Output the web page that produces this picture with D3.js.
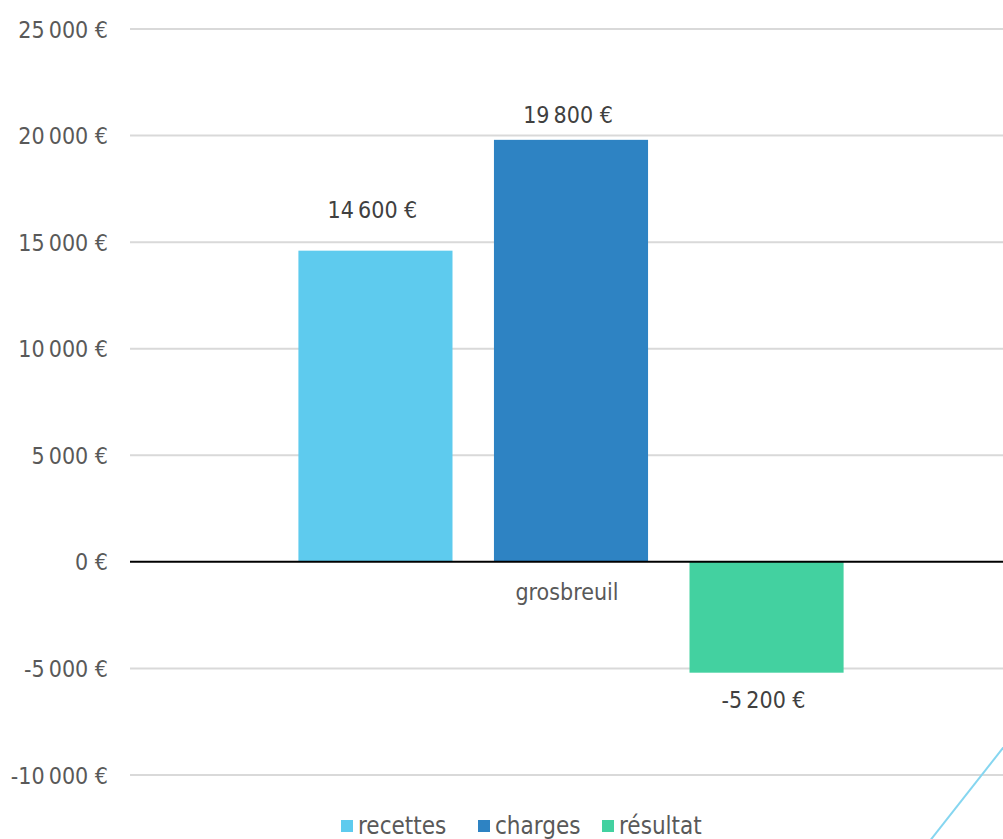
<!DOCTYPE html>
<html>
<head>
<meta charset="utf-8">
<script src="https://cdn.jsdelivr.net/npm/d3@7"></script>
<style>
  html, body { margin: 0; padding: 0; background: #fff; }
  svg { display: block; }
  text { font-family: "DejaVu Sans Condensed", "DejaVu Sans", sans-serif; font-stretch: condensed; }
</style>
</head>
<body>
<svg id="chart" width="1003" height="839"></svg>
<script>
// ---- data ----
const categories = ["grosbreuil"];
const seriesNames = ["recettes", "charges", "résultat"];
const recettes = [14600];
const charges = [19800];
const resultat = [-5200];
const yTicks = [-10000, -5000, 0, 5000, 10000, 15000, 20000, 25000];

// ---- styles ----
const colors = ["#5ecbee", "#2e83c3", "#43d1a0"];
const labelDy = [-33, -17, 35];

const seriesValues = [recettes, charges, resultat];
const W = 1003, H = 839;
const svg = d3.select("#chart");

const loc = d3.formatLocale({ decimal: ",", thousands: "\u202f", grouping: [3], currency: ["", "\u00a0€"], minus: "-" });
const fmt = v => loc.format(",.0f")(v) + "\u00a0€";

const y = d3.scaleLinear().domain([-10000, 25000]).range([775, 29]);
const x0 = d3.scaleBand().domain(categories).range([130, 1012]).paddingInner(0.236).paddingOuter(0.236);
const x1 = d3.scaleBand().domain(seriesNames).range([0, x0.bandwidth()]).paddingInner(0.212).paddingOuter(0);

// gridlines
svg.append("g").selectAll("line").data(yTicks.filter(d => d !== 0)).join("line")
  .attr("x1", 130).attr("x2", W)
  .attr("y1", d => y(d)).attr("y2", d => y(d))
  .attr("stroke", "#d9d9d9").attr("stroke-width", 2);

// y-axis labels
const yAxis = d3.axisLeft(y).tickValues(yTicks).tickFormat(fmt).tickSize(0).tickPadding(0);
const ga = svg.append("g").attr("transform", "translate(108,0)").call(yAxis);
ga.select(".domain").remove();
ga.selectAll("text").attr("fill", "#595959").attr("font-size", 23)
  .attr("dy", "0.35em");
ga.attr("font-family", null).attr("font-size", null);

// bars
const rows = [];
categories.forEach((c, i) => seriesNames.forEach((s, j) => rows.push({ c, s, j, v: seriesValues[j][i] })));

svg.append("g").selectAll("rect").data(rows).join("rect")
  .attr("x", d => x0(d.c) + x1(d.s))
  .attr("width", x1.bandwidth())
  .attr("y", d => y(Math.max(0, d.v)))
  .attr("height", d => Math.abs(y(d.v) - y(0)))
  .attr("fill", d => colors[d.j]);

// zero line
svg.append("line").attr("x1", 130).attr("x2", W).attr("y1", y(0)).attr("y2", y(0))
  .attr("stroke", "#000").attr("stroke-width", 2);

// data labels
svg.append("g").selectAll("text").data(rows).join("text")
  .attr("x", d => x0(d.c) + x1(d.s) + x1.bandwidth() / 2 - 3)
  .attr("y", d => y(d.v) + labelDy[d.j])
  .attr("text-anchor", "middle")
  .attr("font-size", 23)
  .attr("fill", "#404040")
  .text(d => fmt(d.v));

// category label
svg.append("g").selectAll("text").data(categories).join("text")
  .attr("x", d => x0(d) + x0.bandwidth() / 2 - 4)
  .attr("y", y(0) + 38)
  .attr("text-anchor", "middle")
  .attr("font-size", 23)
  .attr("fill", "#595959")
  .text(d => d);

// legend
const legendX = [341, 478, 602];
const lg = svg.append("g").selectAll("g").data(seriesNames).join("g")
  .attr("transform", (d, i) => `translate(${legendX[i]},820)`);
lg.append("rect").attr("width", 12).attr("height", 12).attr("fill", (d, i) => colors[i]);
lg.append("text").attr("x", 17).attr("y", 14).attr("font-size", 24).attr("fill", "#595959").text(d => d);

// decorative diagonal line
svg.append("line").attr("x1", 1010).attr("y1", 739).attr("x2", 929).attr("y2", 842)
  .attr("stroke", "#86d6f0").attr("stroke-width", 2);
</script>
</body>
</html>
